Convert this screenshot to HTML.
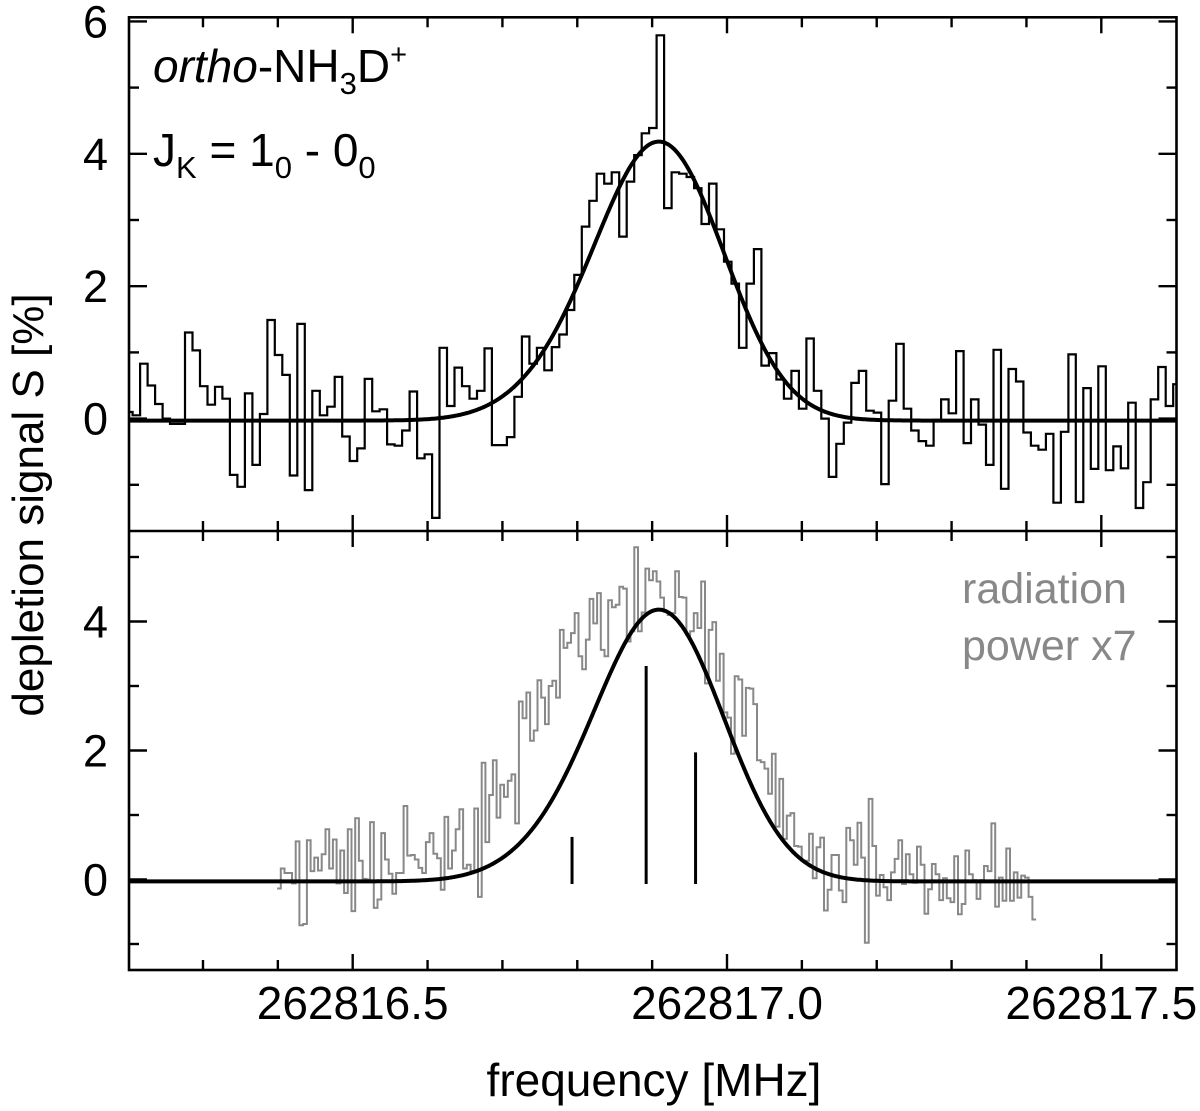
<!DOCTYPE html>
<html><head><meta charset="utf-8"><style>
html,body{margin:0;padding:0;background:#fff;}
svg{display:block;font-family:"Liberation Sans",Arial,sans-serif;}
</style></head><body>
<svg id="chart" width="1200" height="1111" viewBox="0 0 1200 1111" xmlns="http://www.w3.org/2000/svg">
<defs>
<clipPath id="clipTop"><rect x="129" y="17" width="1048" height="514"/></clipPath>
<clipPath id="clipBot"><rect x="129" y="531" width="1048" height="439"/></clipPath>
</defs>
<g id="axes"></g>
<g id="marks"></g>
<text x="153" y="82" font-size="46"><tspan font-style="italic">ortho</tspan>-NH<tspan font-size="31" dy="12">3</tspan><tspan dy="-12">D</tspan><tspan font-size="29" dy="-18">+</tspan></text>
<text x="153" y="166" font-size="46">J<tspan font-size="31" dy="12">K</tspan><tspan dy="-12"> = 1</tspan><tspan font-size="31" dy="12">0</tspan><tspan dy="-12"> - 0</tspan><tspan font-size="31" dy="12">0</tspan></text>
<text x="962" y="603" font-size="43" fill="#888">radiation</text>
<text x="962" y="660" font-size="43" fill="#888">power x7</text>
<text transform="translate(43,505) rotate(-90)" text-anchor="middle" font-size="44">depletion signal S [%]</text>
<text x="654" y="1096" text-anchor="middle" font-size="46">frequency [MHz]</text>
</svg>
<script>
const topValues = [0.1,0.05,0.83,0.5,0.22,0.0,-0.08,-0.08,1.30,1.03,0.49,0.21,0.48,0.30,-0.85,-1.03,0.38,-0.70,0.07,1.49,0.96,0.66,-0.86,1.43,-1.08,0.42,0.05,0.18,0.63,-0.27,-0.64,-0.45,0.60,0.11,0.14,-0.39,-0.41,-0.18,0.41,-0.60,-0.54,-1.50,1.07,0.19,0.77,0.49,0.3,
0.42,1.06,-0.40,-0.40,-0.28,0.33,1.24,0.83,1.07,0.73,1.08,1.27,1.64,2.17,2.90,3.29,3.70,3.55,3.72,2.75,3.58,3.98,4.31,4.39,5.79,3.18,3.72,3.70,3.65,3.48,2.94,3.55,2.86,2.37,2.04,1.07,2.04,2.56,0.80,0.99,0.59,0.30,0.72,0.15,1.21,0.42,
0.0,-0.88,-0.38,-0.06,0.54,0.72,0.12,0.09,-0.99,0.27,1.13,0.15,-0.18,-0.34,-0.41,-0.02,0.29,0.08,1.02,-0.37,0.29,-0.09,-0.70,1.04,-1.06,0.75,0.56,-0.21,-0.41,-0.47,-0.23,-1.27,-0.20,0.97,-1.26,0.46,-0.76,0.79,-0.78,-0.42,-0.75,0.24,-1.35,-0.96,0.29,0.78,0.19,0.52];
const topStart = 262816.196;
const topStep = 0.01;
const powerValues = [-0.14,0.17,0.10,0.10,-0.06,0.59,-0.71,-0.69,0.61,0.13,0.34,0.14,0.39,0.78,0.17,0.62,-0.06,0.45,-0.21,0.78,-0.49,0.95,0.29,0.01,0,0.89,-0.44,-0.31,0.72,0.31,0.09,-0.22,0.10,0.10,1.14,0.37,0.38,0.31,0.18,0.10,0.58,0.72,0.40,0.33,-0.16,0.97,0.17,0.45,0.78,1.09,0.17,0.23,0.13,1.10,-0.27,1.81,0.58,1.31,1.85,0.96,1.47,1.28,1.53,1.63,0.87,2.76,2.50,2.90,
2.15,2.31,3.09,2.82,2.41,3.0,3.08,2.82,3.87,3.59,3.67,3.82,4.13,3.46,3.26,3.72,4.35,3.97,4.44,3.56,3.46,4.33,4.22,4.26,4.54,4.51,3.69,3.85,5.15,3.85,4.14,4.82,4.64,4.78,4.62,4.37,4.15,4.10,4.13,4.78,4.38,4.37,3.79,3.85,4.13,3.90,4.62,3.04,3.87,3.99,3.08,3.50,2.59,2.51,1.95,3.15,3.10,2.23,2.97,2.96,2.72,1.85,1.82,1.72,1.33,1.95,0.82,
1.56,0.63,0.99,1.03,0.52,0.51,0.29,0.29,0.71,0.02,0.50,0.65,-0.48,-0.16,0.38,0.38,-0.17,-0.35,0.80,0.61,0.23,0.88,0.34,-0.98,1.25,0.52,-0.25,0.07,-0.12,-0.32,0.11,0.32,0.61,-0.07,0.39,0.08,-0.05,0.51,0.23,-0.53,-0.15,0.24,0.08,-0.32,0.02,-0.29,-0.35,0.36,-0.54,-0.38,0.45,0.08,-0.01,-0.30,-0.01,0.21,0.13,0.87,-0.42,0.03,-0.33,0.48,-0.33,0.11,-0.28,0.06,0.03,-0.27,-0.62];
const powerStart = 262816.399;
const powerStep = 0.00497;
const stickFreqs = [262816.793, 262816.892, 262816.958];
const stickHeights = [0.66, 3.31, 1.97];
const fitScale = 0.84;
const fitSigma = 0.075;
const fitOffset = -0.03;
const xTickValues = [262816.5, 262817.0, 262817.5];
const xTickLabels = ["262816.5", "262817.0", "262817.5"];
const topYTicks = [0, 2, 4, 6];
const botYTicks = [0, 2, 4];

const NS = "http://www.w3.org/2000/svg";
const X0 = 129, X1 = 1176.5, YT = 17.3, YD = 531, YB = 970;
const xs = f => 352.7 + (f - 262816.5) * 748.6;
const yT = v => 418.6 - v * 66.2;
const yB = v => 879.5 - v * 64.5;
const axes = document.getElementById('axes');
const marks = document.getElementById('marks');
function mk(tag, attrs, parent) {
  const e = document.createElementNS(NS, tag);
  for (const k in attrs) e.setAttribute(k, attrs[k]);
  parent.appendChild(e);
  return e;
}
function line(x1, y1, x2, y2, w, parent, name) {
  const l = mk('line', {x1, y1, x2, y2, stroke: '#000', 'stroke-width': w}, parent);
  
  
  return l;
}
const fr = mk('rect', {x: X0, y: YT, width: X1 - X0, height: YB - YT, fill: 'none', stroke: '#000', 'stroke-width': 2.6}, axes);


line(X0, YD, X1, YD, 2.6, axes, 'panel-divider');
for (let i = -3; i <= 10; i++) {
  const f = 262816.5 + i * 0.1;
  const x = xs(f);
  if (x < X0 + 2 || x > X1 - 2) continue;
  const major = (i % 5 === 0);
  const L = major ? 16 : 10;
  line(x, YT, x, YT + L, 2.4, axes, 'x-tick-top');
  line(x, YD - L, x, YD + L, 2.4, axes, 'x-tick-divider');
  line(x, YB, x, YB - L, 2.4, axes, 'x-tick-bottom');
}
xTickValues.forEach((f, i) => {
  const t = mk('text', {x: xs(f), y: 1019, 'text-anchor': 'middle', 'font-size': 46}, axes);
  t.textContent = xTickLabels[i];
  
  
});
for (let v = -1; v <= 6; v++) {
  const y = yT(v);
  const L = v % 2 === 0 ? 18 : 10;
  line(X0, y, X0 + L, y, 2.4, axes, 'y-tick-top-left');
  line(X1, y, X1 - L, y, 2.4, axes, 'y-tick-top-right');
}
topYTicks.forEach(v => {
  const t = mk('text', {x: 108, y: yT(v) + 16, 'text-anchor': 'end', 'font-size': 45}, axes);
  t.textContent = String(v);
  
  
});
for (let v = -1; v <= 5; v++) {
  const y = yB(v);
  const L = v % 2 === 0 ? 18 : 10;
  line(X0, y, X0 + L, y, 2.4, axes, 'y-tick-bottom-left');
  line(X1, y, X1 - L, y, 2.4, axes, 'y-tick-bottom-right');
}
botYTicks.forEach(v => {
  const t = mk('text', {x: 108, y: yB(v) + 16, 'text-anchor': 'end', 'font-size': 45}, axes);
  t.textContent = String(v);
  
  
});
function stepPath(vals, start, step, yf) {
  let d = '';
  vals.forEach((v, i) => {
    const xa = xs(start + i * step), xb = xs(start + (i + 1) * step), y = yf(v);
    d += (i === 0 ? 'M' + xa.toFixed(1) + ' ' + y.toFixed(1) : 'V' + y.toFixed(1)) + 'H' + xb.toFixed(1);
  });
  return d;
}
function fit(f) {
  let s = 0;
  stickFreqs.forEach((c, i) => { const d = (f - c) / fitSigma; s += stickHeights[i] * Math.exp(-0.5 * d * d); });
  return fitScale * s + fitOffset;
}
function fitPath(yf) {
  let d = '';
  for (let x = X0; x <= X1; x += 1) {
    const f = 262816.5 + (x - 352.7) / 748.6;
    d += (x === X0 ? 'M' : 'L') + x + ' ' + yf(fit(f)).toFixed(1);
  }
  return d;
}
const gTop = mk('g', {'clip-path': 'url(#clipTop)'}, marks);


const h1 = mk('path', {d: stepPath(topValues, topStart, topStep, yT), fill: 'none', stroke: '#000', 'stroke-width': 2.2}, gTop);


const f1 = mk('path', {d: fitPath(yT), fill: 'none', stroke: '#000', 'stroke-width': 4}, gTop);


const gBot = mk('g', {'clip-path': 'url(#clipBot)'}, marks);


const h2 = mk('path', {d: stepPath(powerValues, powerStart, powerStep, yB), fill: 'none', stroke: '#888', 'stroke-width': 2}, gBot);


const f2 = mk('path', {d: fitPath(yB), fill: 'none', stroke: '#000', 'stroke-width': 4}, gBot);


stickFreqs.forEach((c, i) => {
  const s = mk('line', {x1: xs(c), x2: xs(c), y1: yB(-0.07), y2: yB(stickHeights[i]), stroke: '#000', 'stroke-width': 3}, gBot);
  
  
});
</script>
</body></html>
